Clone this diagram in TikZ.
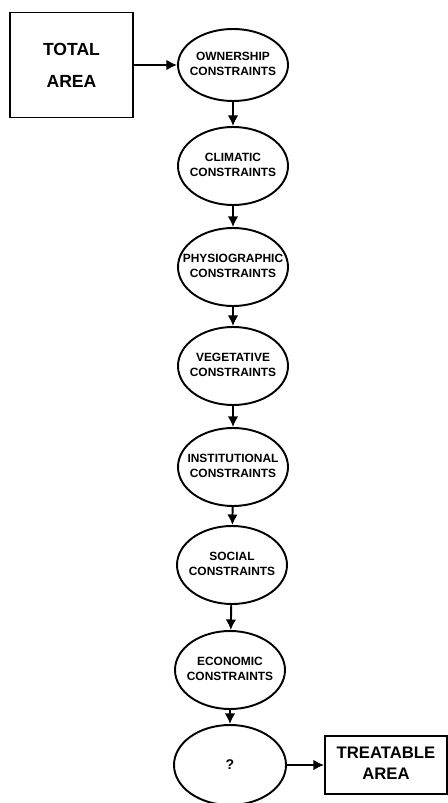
\documentclass[tikz,border=0pt]{standalone}
\usepackage{fontspec}
\setmainfont{Liberation Sans}
\usetikzlibrary{arrows.meta,shapes.geometric}

\newcommand{\twolines}[2]{\makebox[0pt]{\begin{tabular}{@{}c@{}}#1\\#2\end{tabular}}}

\begin{document}
\begin{tikzpicture}[>={Latex[length=6pt,width=6pt]}, line width=1.1pt,
  every node/.style={font=\bfseries\fontsize{6.8}{8.5}\selectfont},
  cons/.style={draw, ellipse, inner sep=0pt, minimum width=2.2cm, minimum height=1.56cm},
  area/.style={draw, rectangle, inner sep=0pt}]
  \useasboundingbox (0,0) rectangle (8.96,-16.06);
  \node[area, minimum width=2.46cm, minimum height=2.1cm, font=\bfseries\fontsize{10}{18}\selectfont] (total) at (1.43,-1.3) {\twolines{TOTAL}{AREA}};
  \node[cons, minimum height=1.44cm] (own)   at (4.66,-1.3)  {\twolines{OWNERSHIP}{CONSTRAINTS}};
  \node[cons] (clim)  at (4.66,-3.32)  {\twolines{CLIMATIC}{CONSTRAINTS}};
  \node[cons] (phys)  at (4.66,-5.34)  {\twolines{PHYSIOGRAPHIC}{CONSTRAINTS}};
  \node[cons] (veg)   at (4.66,-7.32)  {\twolines{VEGETATIVE}{CONSTRAINTS}};
  \node[cons] (inst)  at (4.66,-9.34)  {\twolines{INSTITUTIONAL}{CONSTRAINTS}};
  \node[cons] (soc)   at (4.64,-11.3)  {\twolines{SOCIAL}{CONSTRAINTS}};
  \node[cons] (econ)  at (4.6,-13.4)   {\twolines{ECONOMIC}{CONSTRAINTS}};
  \node[cons, minimum width=2.24cm, minimum height=1.6cm, font=\bfseries\fontsize{8}{10}\selectfont] (unk) at (4.6,-15.3) {?};
  \node[area, minimum width=2.44cm, minimum height=1.16cm, font=\bfseries\fontsize{9.5}{12}\selectfont] (treat) at (7.72,-15.3) {\twolines{TREATABLE}{AREA}};
  % chain of constraints
  \draw[->] (total) -- (own);
  \draw[->] (own) -- (clim);
  \draw[->] (clim) -- (phys);
  \draw[->] (phys) -- (veg);
  \draw[->] (veg) -- (inst);
  \draw[->] (inst) -- (soc);
  \draw[->] (soc) -- (econ);
  \draw[->] (econ) -- (unk);
  \draw[->] (unk) -- (treat);
\end{tikzpicture}
\end{document}
